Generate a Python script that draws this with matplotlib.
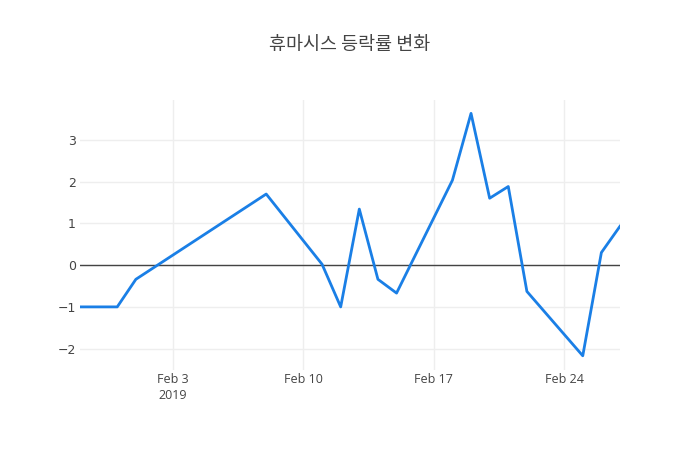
import pandas as pd
import matplotlib
matplotlib.use('Agg')
import matplotlib.pyplot as plt

plt.rcParams['font.family'] = ['Open Sans', 'Noto Sans CJK KR', 'DejaVu Sans']

# daily change rate (%)
dates = ['2019-01-29', '2019-01-31', '2019-02-01', '2019-02-08', '2019-02-11',
         '2019-02-12', '2019-02-13', '2019-02-14', '2019-02-15', '2019-02-18',
         '2019-02-19', '2019-02-20', '2019-02-21', '2019-02-22', '2019-02-25',
         '2019-02-26', '2019-02-27']
changes = [-1.0, -1.0, -0.34, 1.70, 0.02, -1.0, 1.34, -0.34, -0.67, 2.03,
           3.63, 1.60, 1.88, -0.63, -2.17, 0.30, 0.93]
tick_dates = ['2019-02-03', '2019-02-10', '2019-02-17', '2019-02-24']
tick_labels = ['Feb 3\n2019', 'Feb 10', 'Feb 17', 'Feb 24']
y_ticks = [-2, -1, 0, 1, 2, 3]
y_labels = ['\u22122', '\u22121', '0', '1', '2', '3']

x = pd.to_datetime(dates)

fig = plt.figure(figsize=(7, 4.5), dpi=100)
ax = fig.add_axes([80 / 700, 80 / 450, 540 / 700, 270 / 450])

ax.plot(x, changes, color='#1a7fe6', linewidth=2, zorder=3)
ax.axhline(0, color='#444444', linewidth=1, zorder=2)

ax.set_xlim(x[0], x[-1])
ax.set_ylim(-2.51, 3.95)
ax.set_xticks(pd.to_datetime(tick_dates))
ax.set_xticklabels(tick_labels, linespacing=1.3)
ax.set_yticks(y_ticks)
ax.set_yticklabels(y_labels)

ax.grid(True, color='#eeeeee', linewidth=1)
ax.set_axisbelow(True)
for s in ax.spines.values():
    s.set_visible(False)
ax.tick_params(length=0, labelsize=9, colors='#444444')
ax.tick_params(axis='x', pad=2)
ax.tick_params(axis='y', pad=3)
for lbl in ax.get_yticklabels():
    lbl.set_fontfamily(['DejaVu Sans'])

fig.text(0.5, 1 - 45 / 450, '휴마시스 등락률 변화', ha='center', va='center',
         fontsize=13.3, color='#444444', family=['Noto Sans CJK KR', 'DejaVu Sans'])

fig.savefig('out.png', dpi=100, facecolor='white')
